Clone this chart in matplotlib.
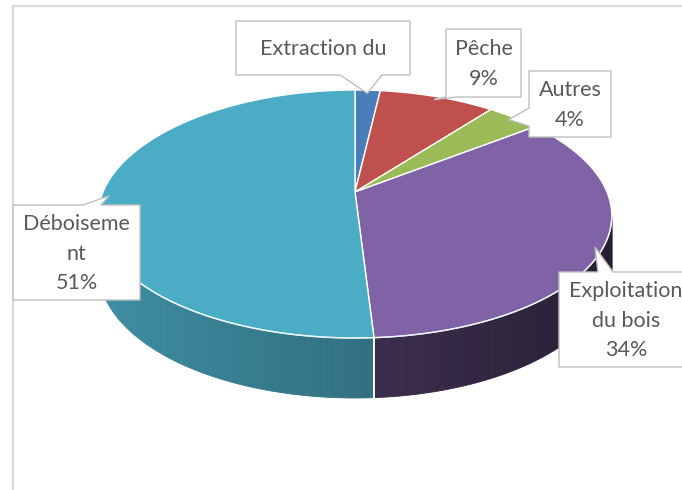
import numpy as np
import matplotlib.pyplot as plt
from matplotlib.patches import Polygon
from matplotlib.colors import to_rgb

# data
categories = ['Extraction du', 'Pêche', 'Autres', 'Exploitation\ndu bois', 'Déboiseme\nnt']
values = [2, 9, 4, 34, 51]
show_pct = [False, True, True, True, True]
colors = ['#4a7ebb', '#c0504d', '#9bbb59', '#7f63a6', '#4bacc6']
wall_base = [0.55, 0.55, 0.55, 0.47, 0.66]

# label boxes (pixel layout): x0, y0, x1, y1, pointer side, pointer base
boxes = [
    (236, 21, 410, 75, 'bottom', (340, 382)),
    (446, 29, 521, 97, 'bottom', (446, 456)),
    (529, 71, 611, 137, 'left', (108, 126)),
    (559, 272, 693, 367, 'top', (598, 613)),
    (13, 205, 140, 300, 'top', (83, 101)),
]

# 3d pie geometry, pixel units
CX, CY = 355, 192
RX = 252
RY_BACK, RY_FRONT = 102, 146
DEPTH = 50
PERSP = 0.2
TEXT = '#595959'


def top_pt(theta, r=1.0):
    s, c = np.sin(theta), np.cos(theta)
    ry = (RY_BACK + RY_FRONT) / 2 - (RY_FRONT - RY_BACK) / 2 * c
    return CX + r * RX * s * (1 - PERSP * c), CY - r * ry * c


def depth(theta):
    return DEPTH * (1 - PERSP * np.cos(theta))


fig = plt.figure(figsize=(6.82, 4.90), dpi=100)
ax = fig.add_axes([0, 0, 1, 1])
ax.set_xlim(0, 682)
ax.set_ylim(490, 0)
ax.axis('off')

# chart frame (only left and top visible)
ax.plot([13, 13], [490, 6], color='#d9d9d9', lw=1.5)
ax.plot([13, 682], [6, 6], color='#d9d9d9', lw=1.5)

fracs = np.array(values, dtype=float) / sum(values)
bounds = np.concatenate([[0], np.cumsum(fracs)]) * 2 * np.pi

# visible wall range: between rightmost and leftmost points
grid = np.linspace(0, 2 * np.pi, 3601)
gx = top_pt(grid)[0]
th_r = grid[:1800][np.argmax(gx[:1800])]
th_l = grid[1800:][np.argmin(gx[1800:])]

# walls
for i in range(len(values)):
    a, b = max(bounds[i], th_r), min(bounds[i + 1], th_l)
    if a >= b:
        continue
    ts = np.linspace(a, b, 80)
    base = np.array(to_rgb(colors[i]))
    for t0, t1 in zip(ts[:-1], ts[1:]):
        x0, y0 = top_pt(t0)
        x1, y1 = top_pt(t1)
        tm = (t0 + t1) / 2
        f = wall_base[i] - 0.18 * np.sin(tm)
        col = np.clip(base * f, 0, 1)
        ax.add_patch(Polygon([(x0, y0), (x1, y1), (x1, y1 + depth(t1)), (x0, y0 + depth(t0))],
                             closed=True, facecolor=col, edgecolor=col, lw=0.6))
    # white separator on the wall
    for t in (a, b):
        if th_r < t < th_l:
            x, y = top_pt(t)
            ax.plot([x, x], [y, y + depth(t)], color='white', lw=1.2, alpha=0.9)

# top faces
for i in range(len(values)):
    ts = np.linspace(bounds[i], bounds[i + 1], 120)
    xs, ys = top_pt(ts)
    pts = [(CX, CY)] + list(zip(xs, ys))
    ax.add_patch(Polygon(pts, closed=True, facecolor=colors[i],
                         edgecolor='white', lw=1.0, joinstyle='round'))

# light rim along the front edge
ts = np.linspace(th_r, th_l, 200)
rx_, ry_ = top_pt(ts)
ax.plot(rx_, ry_, color='#e8f4f8', lw=1.0, alpha=0.8)


def callout(x0, y0, x1, y1, side, base, tip):
    b0, b1 = base
    if side == 'bottom':
        pts = [(x0, y0), (x1, y0), (x1, y1), (b1, y1), tip, (b0, y1), (x0, y1)]
    elif side == 'top':
        pts = [(x0, y0), (b0, y0), tip, (b1, y0), (x1, y0), (x1, y1), (x0, y1)]
    else:  # left
        pts = [(x0, y0), (x1, y0), (x1, y1), (x0, y1), (x0, b1), tip, (x0, b0)]
    ax.add_patch(Polygon(pts, closed=True, facecolor='white', edgecolor='#bfbfbf',
                         lw=1.0, zorder=5, clip_on=False))


for i, (name, v) in enumerate(zip(categories, values)):
    x0, y0, x1, y1, side, base = boxes[i]
    mid = (bounds[i] + bounds[i + 1]) / 2
    tip = top_pt(mid, 0.97)
    callout(x0, y0, x1, y1, side, base, tip)
    txt = f'{name}\n{v}%' if show_pct[i] else name
    ax.text((x0 + x1) / 2, (y0 + y1) / 2 + 1, txt, ha='center', va='center',
            fontsize=15.5, color=TEXT, family=['Lato', 'DejaVu Sans'],
            linespacing=1.6, zorder=6)

fig.savefig('out.png', dpi=100)
